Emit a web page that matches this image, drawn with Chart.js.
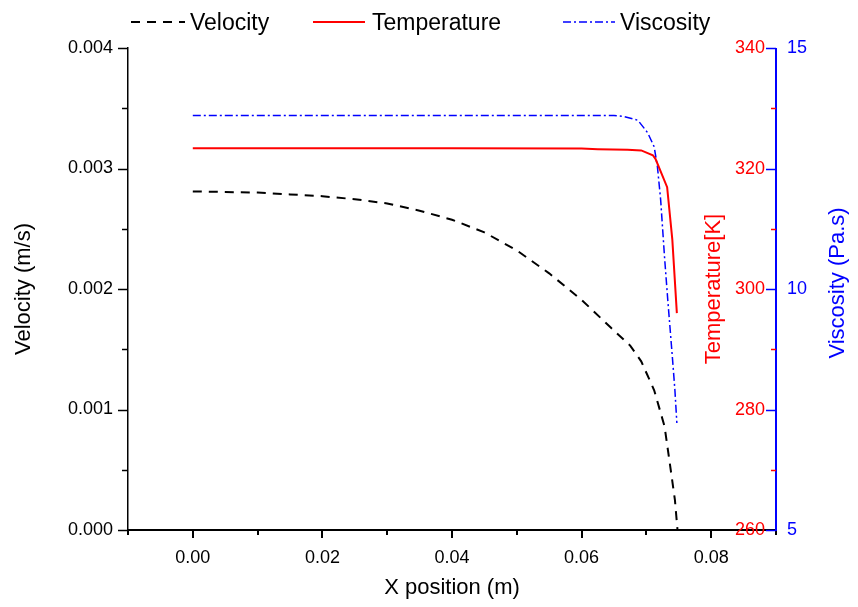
<!DOCTYPE html>
<html>
<head>
<meta charset="utf-8">
<script src="https://cdn.jsdelivr.net/npm/chart.js@4.4.0/dist/chart.umd.min.js"></script>
<style>
  html, body { margin: 0; padding: 0; background: #fff; }
</style>
</head>
<body>
<canvas id="myChart" width="858" height="607"></canvas>
<script>
const FONT = "'Liberation Sans', Arial, sans-serif";

// velocity (m/s) along x
const velX = [0, 0.005, 0.01, 0.015, 0.02, 0.025, 0.03, 0.035, 0.04, 0.045, 0.05, 0.055, 0.06, 0.0645, 0.0675, 0.0692, 0.0712, 0.0728, 0.0737, 0.0744, 0.0748];
const velY = [0.00281, 0.002805, 0.0028, 0.002785, 0.00277, 0.002745, 0.00271, 0.00265, 0.002575, 0.00247, 0.00232, 0.00213, 0.00191, 0.00168, 0.00153, 0.0014, 0.00116, 0.00086, 0.00052, 0.00025, 0];

// temperature (K)
const tempX = [0, 0.02, 0.04, 0.06, 0.0625, 0.0671, 0.0692, 0.071, 0.0714, 0.0732, 0.074, 0.0747];
const tempY = [323.35, 323.35, 323.35, 323.3, 323.2, 323.1, 323.0, 322.2, 321.6, 316.9, 308.2, 296.0];

// viscosity (Pa.s)
const viscX = [0, 0.02, 0.04, 0.06, 0.065, 0.0665, 0.0687, 0.0702, 0.0712, 0.0717, 0.0722, 0.0728, 0.0733, 0.074, 0.0744, 0.0747];
const viscY = [13.6, 13.6, 13.6, 13.6, 13.6, 13.58, 13.5, 13.24, 12.95, 12.54, 11.85, 10.66, 9.77, 8.6, 7.9, 7.22];

// axis ticks
const xTicks = [-0.01, 0, 0.01, 0.02, 0.03, 0.04, 0.05, 0.06, 0.07, 0.08, 0.09];
const xLabels = ['', '0.00', '', '0.02', '', '0.04', '', '0.06', '', '0.08', ''];
const velTicks = [0, 0.0005, 0.001, 0.0015, 0.002, 0.0025, 0.003, 0.0035, 0.004];
const velLabels = ['0.000', '', '0.001', '', '0.002', '', '0.003', '', '0.004'];
const tempTicks = [260, 270, 280, 290, 300, 310, 320, 330, 340];
const tempLabels = ['260', '', '280', '', '300', '', '320', '', '340'];
const viscTicks = [5, 10, 15];
const viscLabels = ['5', '10', '15'];

const RED = '#ff0000';
const BLUE = '#0000ff';

const toPoints = (xs, ys) => xs.map((x, i) => ({ x: x, y: ys[i] }));

// ticks, right axis and legend drawn the Origin way
const originAxes = {
  id: 'originAxes',
  afterDraw(chart) {
    const { ctx, chartArea: a, scales } = chart;
    const line = (x1, y1, x2, y2) => {
      ctx.beginPath(); ctx.moveTo(x1, y1); ctx.lineTo(x2, y2); ctx.stroke();
    };
    ctx.save();
    ctx.setLineDash([]);

    // left ticks
    ctx.strokeStyle = '#000';
    ctx.lineWidth = 1.5;
    velTicks.forEach((v, i) => {
      const y = Math.round(scales.y.getPixelForValue(v)) + 0.5;
      line(a.left - (velLabels[i] ? 10 : 6), y, a.left, y);
    });

    // bottom ticks
    ctx.lineWidth = 2;
    xTicks.forEach((v, i) => {
      const x = Math.round(scales.x.getPixelForValue(v));
      line(x, a.bottom, x, a.bottom + (xLabels[i] ? 8 : 5));
    });

    // right spine
    ctx.strokeStyle = BLUE;
    ctx.lineWidth = 2;
    line(a.right, a.top, a.right, a.bottom + 1);

    // temperature ticks and labels
    ctx.font = '18px ' + FONT;
    ctx.textBaseline = 'middle';
    tempTicks.forEach((t, i) => {
      const y = Math.round(scales.yT.getPixelForValue(t)) + 0.5;
      const major = tempLabels[i] !== '';
      ctx.strokeStyle = major ? BLUE : RED;
      ctx.lineWidth = 1.5;
      line(a.right - (major ? 10 : 5), y, a.right, y);
      if (major) {
        ctx.fillStyle = RED;
        ctx.textAlign = 'right';
        ctx.fillText(tempLabels[i], a.right - 11, y);
      }
    });

    // viscosity labels
    ctx.fillStyle = BLUE;
    ctx.textAlign = 'left';
    viscTicks.forEach((v, i) => {
      ctx.fillText(viscLabels[i], a.right + 11, scales.yV.getPixelForValue(v));
    });

    // right titles
    ctx.font = '22px ' + FONT;
    ctx.textAlign = 'center';
    const vTitle = (text, color, x, y) => {
      ctx.save();
      ctx.translate(x, y);
      ctx.rotate(-Math.PI / 2);
      ctx.fillStyle = color;
      ctx.fillText(text, 0, 0);
      ctx.restore();
    };
    vTitle('Temperature[K]', RED, 714, 289);
    vTitle('Viscosity (Pa.s)', BLUE, 838, 283);

    // legend
    const legendPos = [[131, 185, 190], [313, 365, 372], [563, 615, 620]];
    ctx.font = '23px ' + FONT;
    ctx.textAlign = 'left';
    ctx.textBaseline = 'alphabetic';
    chart.data.datasets.forEach((ds, i) => {
      const [x1, x2, tx] = legendPos[i];
      ctx.strokeStyle = ds.borderColor;
      ctx.lineWidth = ds.borderWidth;
      ctx.setLineDash(ds.borderDash || []);
      line(x1, 22, x2, 22);
      ctx.setLineDash([]);
      ctx.fillStyle = '#000';
      ctx.fillText(ds.label, tx, 30);
    });
    ctx.restore();
  }
};

const ctx = document.getElementById('myChart').getContext('2d');
const chart = new Chart(ctx, {
  type: 'line',
  data: {
    datasets: [
      {
        label: 'Velocity',
        data: toPoints(velX, velY),
        yAxisID: 'y',
        borderColor: '#000',
        borderWidth: 2,
        borderDash: [9, 7],
        pointRadius: 0,
        tension: 0
      },
      {
        label: 'Temperature',
        data: toPoints(tempX, tempY),
        yAxisID: 'yT',
        borderColor: RED,
        borderWidth: 2,
        pointRadius: 0,
        tension: 0
      },
      {
        label: 'Viscosity',
        data: toPoints(viscX, viscY),
        yAxisID: 'yV',
        borderColor: BLUE,
        borderWidth: 1.5,
        borderDash: [8, 3, 2, 3],
        pointRadius: 0,
        tension: 0
      }
    ]
  },
  options: {
    responsive: false,
    animation: false,
    devicePixelRatio: 1,
    layout: { padding: { top: 48, right: 82, left: 0, bottom: 0 } },
    plugins: {
      legend: { display: false },
      tooltip: { enabled: false }
    },
    scales: {
      x: {
        type: 'linear',
        min: -0.01,
        max: 0.09,
        afterFit: (scale) => { scale.height = 77; },
        afterBuildTicks: (scale) => { scale.ticks = xTicks.map(v => ({ value: v })); },
        grid: { display: false, drawTicks: true, tickLength: 8 },
        border: { display: true, color: '#000', width: 2 },
        ticks: {
          autoSkip: false,
          maxRotation: 0,
          padding: 9,
          color: '#000',
          font: { family: FONT, size: 18 },
          callback: (value, i) => xLabels[i]
        },
        title: {
          display: true,
          text: 'X position (m)',
          color: '#000',
          font: { family: FONT, size: 22 },
          padding: { top: 0, bottom: 6 }
        }
      },
      y: {
        position: 'left',
        min: 0,
        max: 0.004,
        afterFit: (scale) => { scale.width = 128; },
        afterBuildTicks: (scale) => { scale.ticks = velTicks.map(v => ({ value: v })); },
        grid: { display: false, drawTicks: true, tickLength: 10 },
        border: { display: true, color: '#000', width: 1.5 },
        ticks: {
          autoSkip: false,
          padding: 5,
          color: '#000',
          font: { family: FONT, size: 18 },
          callback: (value, i) => velLabels[i]
        },
        title: {
          display: true,
          text: 'Velocity (m/s)',
          color: '#000',
          font: { family: FONT, size: 22 },
          padding: { top: 11, bottom: 0 }
        }
      },
      yT: { position: 'right', display: false, min: 260, max: 340 },
      yV: { position: 'right', display: false, min: 5, max: 15 }
    }
  },
  plugins: [originAxes]
});
</script>
</body>
</html>
